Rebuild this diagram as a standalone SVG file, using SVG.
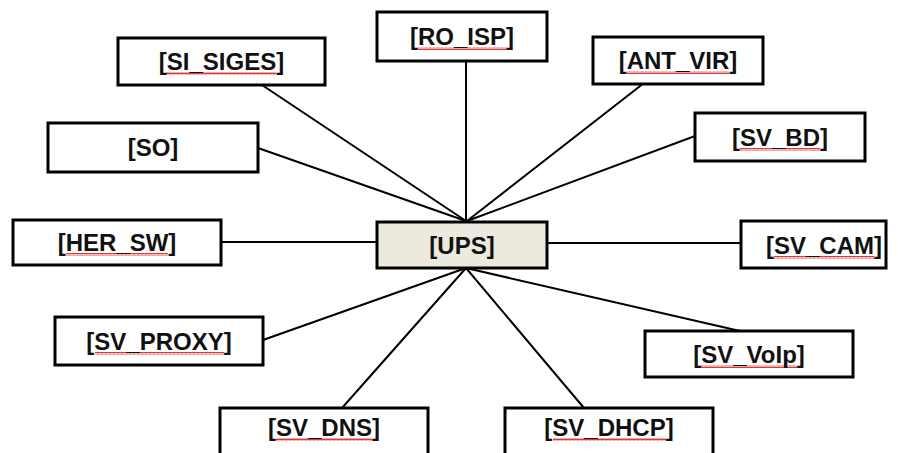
<svg xmlns="http://www.w3.org/2000/svg" width="898" height="453" viewBox="0 0 898 453">
  <style>
    .box { fill: #ffffff; stroke: #000000; stroke-width: 3; }
    .hub { fill: #ECE9DF; stroke: #000000; stroke-width: 3; }
    .lbl { font-family: "Liberation Sans", Arial, sans-serif; font-weight: bold; font-size: 24px; fill: #111111; text-anchor: middle; }
    .conn line { stroke: #000000; stroke-width: 2; stroke-linecap: round; }
    .sq { fill: url(#squiggle); }
  </style>
  <defs>
    <!-- red wavy spell-check underline -->
    <pattern id="squiggle" width="4" height="3" patternUnits="userSpaceOnUse">
      <path d="M0,2.5 L1,0.5 L2,2.5 L3,0.5 L4,2.5" fill="none" stroke="#e02020" stroke-width="0.9"/>
    </pattern>
  </defs>
  <rect width="898" height="453" fill="#ffffff"/>

  <g id="connectors" class="conn">
    <line x1="262" y1="85" x2="466" y2="221"/>
    <line x1="258" y1="148" x2="466" y2="221"/>
    <line x1="466" y1="61" x2="466" y2="221"/>
    <line x1="644" y1="83" x2="467" y2="221"/>
    <line x1="695" y1="136" x2="467" y2="221"/>
    <line x1="221" y1="242" x2="377" y2="242"/>
    <line x1="547" y1="243" x2="741" y2="243"/>
    <line x1="263" y1="340" x2="466" y2="268"/>
    <line x1="342" y1="408" x2="466" y2="268"/>
    <line x1="584" y1="408" x2="466" y2="268"/>
    <line x1="740" y1="331" x2="466" y2="268"/>
  </g>

  <g id="si_siges">
    <rect class="box" x="118" y="38" width="207" height="47"/>
    <rect class="sq" x="166" y="72" width="110" height="3"/>
    <text class="lbl" x="221.5" y="70">[SI_SIGES]</text>
  </g>
  <g id="ro_isp">
    <rect class="box" x="377" y="12" width="170" height="49"/>
    <rect class="sq" x="418" y="47" width="88" height="3"/>
    <text class="lbl" x="462" y="45">[RO_ISP]</text>
  </g>
  <g id="ant_vir">
    <rect class="box" x="593" y="37" width="170" height="47"/>
    <rect class="sq" x="627" y="71" width="102" height="3"/>
    <text class="lbl" x="678" y="69">[ANT_VIR]</text>
  </g>
  <g id="sv_bd">
    <rect class="box" x="695" y="113" width="170" height="48"/>
    <rect class="sq" x="740" y="148" width="80" height="3"/>
    <text class="lbl" x="780" y="146">[SV_BD]</text>
  </g>
  <g id="so">
    <rect class="box" x="48" y="123" width="210" height="49"/>
    <text class="lbl" x="153" y="156">[SO]</text>
  </g>
  <g id="her_sw">
    <rect class="box" x="13" y="220" width="208" height="45"/>
    <rect class="sq" x="66" y="253" width="102" height="3"/>
    <text class="lbl" x="117" y="251">[HER_SW]</text>
  </g>
  <g id="ups">
    <rect class="hub" x="377" y="222" width="170" height="46"/>
    <text class="lbl" x="462" y="253.5">[UPS]</text>
  </g>
  <g id="sv_cam">
    <rect class="box" x="741" y="221" width="145" height="47"/>
    <rect class="sq" x="774" y="256" width="100" height="3"/>
    <text class="lbl" x="824" y="254">[SV_CAM]</text>
  </g>
  <g id="sv_proxy">
    <rect class="box" x="55" y="317" width="208" height="48"/>
    <rect class="sq" x="95" y="352" width="129" height="3"/>
    <text class="lbl" x="159" y="349.5">[SV_PROXY]</text>
  </g>
  <g id="sv_voip">
    <rect class="box" x="645" y="331" width="208" height="46"/>
    <rect class="sq" x="700" y="365" width="97" height="3"/>
    <text class="lbl" x="749" y="362.5">[SV_VoIp]</text>
  </g>
  <g id="sv_dns">
    <rect class="box" x="220" y="408" width="208" height="60"/>
    <rect class="sq" x="276" y="438" width="96" height="3"/>
    <text class="lbl" x="324" y="436">[SV_DNS]</text>
  </g>
  <g id="sv_dhcp">
    <rect class="box" x="505" y="408" width="208" height="60"/>
    <rect class="sq" x="553" y="438" width="113" height="3"/>
    <text class="lbl" x="609" y="436">[SV_DHCP]</text>
  </g>
</svg>
